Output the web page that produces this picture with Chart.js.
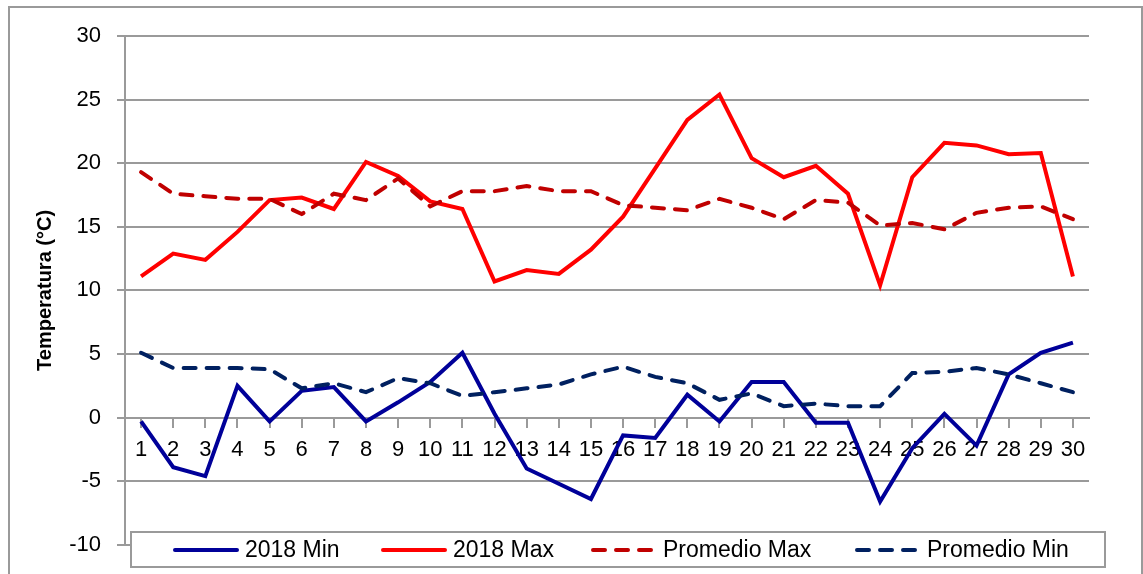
<!DOCTYPE html>
<html>
<head>
<meta charset="utf-8">
<script src="https://cdn.jsdelivr.net/npm/chart.js@4.4.0/dist/chart.umd.min.js"></script>
<style>
    html, body { margin: 0; padding: 0; background: #fff; }
    #wrap { position: relative; width: 1143px; height: 574px; overflow: hidden; }
    #frame { position: absolute; left: 8px; top: 6px; width: 1131px; height: 600px; border: 2px solid #9a9a9a; pointer-events: none; }
    canvas { position: absolute; left: 0; top: 0; }
</style>
</head>
<body>
<div id="wrap">
    <canvas id="myChart" width="1143" height="574"></canvas>
    <div id="frame"></div>
</div>
<script>
// days of the month
const days = ['1', '2', '3', '4', '5', '6', '7', '8', '9', '10', '11', '12', '13', '14', '15',
    '16', '17', '18', '19', '20', '21', '22', '23', '24', '25', '26', '27', '28', '29', '30'];

const min2018 = [-0.3, -3.9, -4.6, 2.5, -0.3, 2.1, 2.4, -0.3, 1.2, 2.8, 5.1, 0.3, -4.0, -5.2, -6.4,
    -1.4, -1.6, 1.8, -0.3, 2.8, 2.8, -0.4, -0.4, -6.6, -2.4, 0.3, -2.2, 3.4, 5.1, 5.9];

const max2018 = [11.1, 12.9, 12.4, 14.6, 17.1, 17.3, 16.4, 20.1, 19.0, 17.0, 16.4, 10.7, 11.6, 11.3, 13.2,
    15.8, 19.6, 23.4, 25.4, 20.4, 18.9, 19.8, 17.6, 10.4, 18.9, 21.6, 21.4, 20.7, 20.8, 11.1];

const promedioMax = [19.3, 17.6, 17.4, 17.2, 17.2, 16.0, 17.6, 17.1, 18.8, 16.6, 17.8, 17.8, 18.2, 17.8, 17.8,
    16.7, 16.5, 16.3, 17.2, 16.5, 15.6, 17.1, 16.9, 15.1, 15.3, 14.8, 16.1, 16.5, 16.6, 15.6];

const promedioMin = [5.1, 3.9, 3.9, 3.9, 3.8, 2.3, 2.7, 2.0, 3.1, 2.7, 1.7, 2.0, 2.3, 2.6, 3.4,
    4.0, 3.2, 2.7, 1.4, 1.9, 0.9, 1.1, 0.9, 0.9, 3.5, 3.6, 3.9, 3.4, 2.7, 2.0];

const yTicks = { min: -10, max: 30, step: 5 };

const fontFamily = "'Liberation Sans', Arial, sans-serif";
const gridColor = '#9a9a9a';

// legend drawn as a box over the bottom of the plot, like the original
const legendBox = {
    id: 'legendBox',
    afterDraw(chart) {
        const ctx = chart.ctx;
        const box = { x: 131, y: 532, w: 974, h: 35 };
        const starts = [175, 383, 593, 857];
        ctx.save();
        ctx.fillStyle = '#fff';
        ctx.fillRect(box.x, box.y, box.w, box.h);
        ctx.strokeStyle = gridColor;
        ctx.lineWidth = 2;
        ctx.strokeRect(box.x, box.y, box.w, box.h);
        ctx.font = '23px ' + fontFamily;
        ctx.textBaseline = 'alphabetic';
        ctx.fillStyle = '#000';
        chart.data.datasets.forEach((ds, i) => {
            const x0 = starts[i];
            ctx.beginPath();
            ctx.strokeStyle = ds.borderColor;
            ctx.lineWidth = ds.borderWidth;
            ctx.lineCap = 'round';
            ctx.setLineDash(ds.borderDash || []);
            ctx.moveTo(x0, 550);
            ctx.lineTo(x0 + 62, 550);
            ctx.stroke();
            ctx.setLineDash([]);
            ctx.fillText(ds.label, x0 + 70, 557);
        });
        ctx.restore();
    }
};

const ctx = document.getElementById('myChart').getContext('2d');
const myChart = new Chart(ctx, {
    type: 'line',
    data: {
        labels: days,
        datasets: [
            {
                label: '2018 Min',
                data: min2018,
                borderColor: '#000099',
                borderWidth: 4,
                order: 4
            },
            {
                label: '2018 Max',
                data: max2018,
                borderColor: '#ff0000',
                borderWidth: 4,
                order: 3
            },
            {
                label: 'Promedio Max',
                data: promedioMax,
                borderColor: '#c00000',
                borderWidth: 4,
                borderDash: [12, 11],
                borderCapStyle: 'round',
                order: 2
            },
            {
                label: 'Promedio Min',
                data: promedioMin,
                borderColor: '#002060',
                borderWidth: 4,
                borderDash: [12, 11],
                borderCapStyle: 'round',
                order: 1
            }
        ]
    },
    options: {
        responsive: false,
        animation: false,
        layout: { padding: { left: 0, top: 36, right: 54, bottom: 27 } },
        elements: {
            point: { radius: 0, hoverRadius: 0 },
            line: { tension: 0, fill: false }
        },
        plugins: {
            legend: { display: false },
            tooltip: { enabled: false }
        },
        scales: {
            x: {
                position: { y: 0 },
                offset: true,
                grid: {
                    drawOnChartArea: false,
                    drawTicks: true,
                    tickLength: 9,
                    color: gridColor,
                    lineWidth: 2
                },
                border: { display: true, color: gridColor, width: 2 },
                ticks: {
                    color: '#000',
                    padding: 10,
                    maxRotation: 0,
                    autoSkip: false,
                    font: { family: fontFamily, size: 22 }
                }
            },
            y: {
                min: yTicks.min,
                max: yTicks.max,
                afterFit: function (scale) { scale.width = 125; },
                grid: {
                    color: gridColor,
                    lineWidth: 2,
                    tickLength: 8
                },
                border: { display: true, color: gridColor, width: 2 },
                ticks: {
                    stepSize: yTicks.step,
                    color: '#000',
                    padding: 16,
                    font: { family: fontFamily, size: 22 }
                },
                title: {
                    display: true,
                    text: 'Temperatura (°C)',
                    color: '#000',
                    padding: { top: 33, bottom: 0 },
                    font: { family: fontFamily, size: 20, weight: 'bold' }
                }
            }
        }
    },
    plugins: [legendBox]
});
</script>
</body>
</html>
